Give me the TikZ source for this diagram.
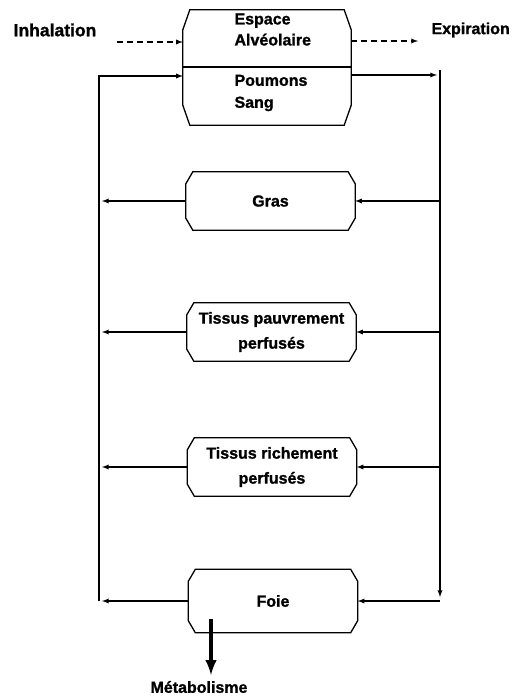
\documentclass[tikz,border=0pt]{standalone}
\usepackage{fontspec}
\setmainfont{Liberation Sans}[BoldFeatures={FakeBold=1.2}]
\usetikzlibrary{calc}
\usetikzlibrary{positioning}

% contour a coins coupes autour d'un noeud
\newcommand{\boiteoct}[3]{%
  \draw[line width=1.3bp] ($(#1.north west)+(#2,0)$) -- ($(#1.north east)+(-#2,0)$)
    -- ($(#1.north east)+(0,#3)$) -- ($(#1.south east)+(0,-#3)$)
    -- ($(#1.south east)+(-#2,0)$) -- ($(#1.south west)+(#2,0)$)
    -- ($(#1.south west)+(0,-#3)$) -- ($(#1.north west)+(0,#3)$) -- cycle;}

\tikzset{
  lab/.style={font=\bfseries\fontsize{16bp}{21bp}\selectfont},
  boite/.style={font=\bfseries\fontsize{16bp}{25bp}\selectfont, rectangle, minimum width=169bp, minimum height=58bp, align=center, inner sep=0pt},
  flux/.style={->, line width=1.3bp},
  pointille/.style={->, line width=1.3bp, dash pattern=on 6bp off 4bp},
}

\begin{document}
\begin{tikzpicture}[>=latex, x=1bp, y=-1bp]
    \useasboundingbox (0,0) rectangle (523,696);

    % compartiments
    \node[boite, minimum width=168bp, minimum height=115bp] (poumons) at (267,67.5) {};
    \node[lab, anchor=west, align=left] (alv) at (231,29.5) {Espace\\Alvéolaire};
    \node[lab, anchor=west, align=left] (sang) at (231,93) {Poumons\\[1bp]Sang};
    \node[boite] (gras) at (270.5,201) {Gras};
    \node[boite] (pauvre) at (271.5,332) {Tissus pauvrement\\perfusés};
    \node[boite] (riche) at (272,467) {Tissus richement\\perfusés};
    \node[boite, minimum height=63bp] (foie) at (273,601) {Foie};

    \boiteoct{poumons}{7}{20}
    \draw[line width=1.3bp] ($(poumons.west)+(0,-0.5)$) -- ($(poumons.east)+(0,-0.5)$);
    \boiteoct{gras}{7}{12}
    \boiteoct{pauvre}{7}{12}
    \boiteoct{riche}{7}{12}
    \boiteoct{foie}{7}{12}

    % echanges gazeux
    \node[lab, font=\bfseries\fontsize{17.5bp}{21bp}\selectfont] (inh) at (55,30) {Inhalation};
    \node[lab, anchor=west] (exp) at (428,30) {Expiration};
    \coordinate (inhdeb) at (117,42);
    \coordinate (expfin) at (418,41);
    \draw[pointille] (inhdeb) -- (inhdeb -| poumons.west);
    \draw[pointille] (expfin -| poumons.east) -- (expfin);

    % circulation
    \coordinate (gauche) at (99,76);
    \coordinate (droite) at (440,70);
    \coordinate (arterfin) at (437,75);
    \coordinate (bas) at (440,597);
    \draw[flux] (gauche |- foie) -- (gauche) -- (gauche -| poumons.west);
    \draw[flux] (arterfin -| poumons.east) -- (arterfin);
    \draw[flux] (droite) -- (bas);
    \foreach \org in {gras,pauvre,riche,foie}{
      \draw[flux] (droite |- \org) -- (\org.east);
      \draw[flux] (\org.west) -- ($(gauche |- \org)+(3,0)$);
    }

    % metabolisme
    \coordinate (metdeb) at (211,619);
    \coordinate (metfin) at (211,675);
    \draw[->, line width=4bp] (metdeb) -- (metfin);
    \node[lab] (met) at (199,687) {Métabolisme};
\end{tikzpicture}
\end{document}
